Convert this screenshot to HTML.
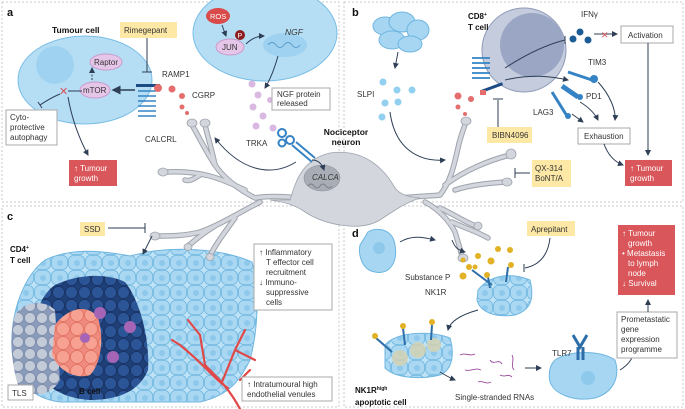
<!DOCTYPE html>
<html><head><meta charset="utf-8"><style>
html,body{margin:0;padding:0;background:#fff}
svg{display:block}
text{font-family:"Liberation Sans",sans-serif;fill:#333}
.b{font-weight:bold;fill:#111}
</style></head><body>
<svg width="685" height="409" viewBox="0 0 685 409" xmlns="http://www.w3.org/2000/svg">
<defs>
<pattern id="tc" width="17" height="15" patternUnits="userSpaceOnUse">
<rect width="17" height="15" fill="#bfe3f6"/>
<rect x="0.5" y="0.5" width="16" height="14" rx="5" fill="#aad8f2" stroke="#6fb6e0" stroke-width="0.8"/>
<circle cx="9" cy="8" r="3" fill="#8ec9ec"/>
</pattern>
<pattern id="dk" width="13" height="13" patternUnits="userSpaceOnUse">
<rect width="13" height="13" fill="#1f3f78"/>
<circle cx="6.5" cy="6.5" r="6" fill="#2c5597" stroke="#17305e" stroke-width="0.8"/>
</pattern>
<pattern id="gr" width="12" height="12" patternUnits="userSpaceOnUse">
<rect width="12" height="12" fill="#8a9bbb"/>
<circle cx="6" cy="6" r="5.5" fill="#c3cad8" stroke="#7d8cab" stroke-width="0.8"/>
</pattern>
<pattern id="pk" width="14" height="14" patternUnits="userSpaceOnUse">
<rect width="14" height="14" fill="#ef8a7e"/>
<circle cx="7" cy="7" r="6.5" fill="#f7a193" stroke="#e0705f" stroke-width="0.8"/>
</pattern>
<marker id="ar" markerWidth="6" markerHeight="6" refX="5" refY="3" orient="auto"><path d="M0,0 L6,3 L0,6 z" fill="#2d3e55"/></marker>
</defs>

<g fill="none" stroke="#bbb" stroke-dasharray="2,2" stroke-width="0.8">
<rect x="2" y="2" width="337" height="200"/>
<rect x="344" y="2" width="339" height="200"/>
<rect x="2" y="206" width="337" height="201"/>
<rect x="344" y="206" width="339" height="201"/>
</g>

<!-- PANEL C cluster first (under neuron) -->
<path d="M45,260 C70,248 100,250 130,256 C170,245 220,248 252,262 C260,290 258,330 250,360 C240,380 230,395 200,402 L60,402 C30,398 15,380 12,350 C10,310 25,275 45,260 Z" fill="url(#tc)" stroke="#6fb6e0"/>
<path d="M55,285 C75,275 105,272 125,282 C140,300 150,340 148,370 C140,390 120,400 90,400 C60,398 40,385 35,360 C30,320 40,295 55,285 Z" fill="url(#dk)"/>
<path d="M15,315 C25,300 45,300 55,310 L60,380 C50,398 30,398 18,385 C10,360 10,330 15,315 Z" fill="url(#gr)"/>
<path d="M55,325 C70,305 90,305 98,318 C105,340 100,365 90,375 C75,380 58,370 52,355 Z" fill="url(#pk)"/>
<g fill="#a564b6"><circle cx="100" cy="313" r="6"/><circle cx="130" cy="327" r="6"/><circle cx="85" cy="338" r="5"/><circle cx="113" cy="357" r="6"/></g>
<g fill="none" stroke="#e0494a" stroke-width="2.2" stroke-linecap="round">
<path d="M240,409 C230,390 220,380 205,365 M228,388 C215,380 205,365 180,345 M205,365 L200,335 M222,382 L235,350 M235,350 L245,330 M235,350 L255,360 M200,335 L188,320 M180,345 L172,340 M240,380 L250,370"/>
</g>

<!-- neuron -->
<g fill="none" stroke-linecap="round" stroke-linejoin="round">
<g stroke="#9ea3ad" stroke-width="5.5">
<path d="M300,198 C280,196 265,196 255,198 C240,190 225,180 215,165 C205,150 198,135 192,125"/>
<path d="M215,165 C212,150 208,138 205,125"/>
<path d="M245,190 C220,178 200,170 165,172"/>
<path d="M200,175 C195,178 190,182 185,180"/>
<path d="M260,202 C240,212 220,225 200,232 C185,236 170,236 155,236"/>
<path d="M215,226 C205,232 195,240 188,246"/>
<path d="M235,218 C225,232 215,245 210,256"/>
<path d="M400,198 C420,196 432,196 440,195 C452,180 455,160 458,148 C460,138 463,130 466,122"/>
<path d="M445,185 C465,170 490,160 510,155"/>
<path d="M455,190 C470,185 490,183 505,182"/>
<path d="M425,202 C440,210 450,222 455,232 C458,242 460,248 462,256"/>
<path d="M440,208 C455,215 465,222 476,226"/>
<path d="M452,222 C465,228 478,232 488,238"/>
</g>
<g stroke="#d3d6dc" stroke-width="3.5">
<path d="M300,198 C280,196 265,196 255,198 C240,190 225,180 215,165 C205,150 198,135 192,125"/>
<path d="M215,165 C212,150 208,138 205,125"/>
<path d="M245,190 C220,178 200,170 165,172"/>
<path d="M200,175 C195,178 190,182 185,180"/>
<path d="M260,202 C240,212 220,225 200,232 C185,236 170,236 155,236"/>
<path d="M215,226 C205,232 195,240 188,246"/>
<path d="M235,218 C225,232 215,245 210,256"/>
<path d="M400,198 C420,196 432,196 440,195 C452,180 455,160 458,148 C460,138 463,130 466,122"/>
<path d="M445,185 C465,170 490,160 510,155"/>
<path d="M455,190 C470,185 490,183 505,182"/>
<path d="M425,202 C440,210 450,222 455,232 C458,242 460,248 462,256"/>
<path d="M440,208 C455,215 465,222 476,226"/>
<path d="M452,222 C465,228 478,232 488,238"/>
</g>
</g>
<g fill="#d3d6dc" stroke="#9ea3ad" stroke-width="0.8">
<ellipse cx="192" cy="123" rx="5" ry="4"/><ellipse cx="205" cy="123" rx="5" ry="4"/>
<ellipse cx="163" cy="172" rx="5" ry="4"/><ellipse cx="155" cy="236" rx="5" ry="4"/>
<ellipse cx="188" cy="247" rx="4" ry="3.5"/><ellipse cx="210" cy="257" rx="4" ry="3.5"/>
<ellipse cx="466" cy="121" rx="5" ry="4"/><ellipse cx="511" cy="154" rx="5" ry="5"/>
<ellipse cx="507" cy="182" rx="5" ry="4"/><ellipse cx="463" cy="258" rx="5" ry="4"/>
<ellipse cx="478" cy="226" rx="4" ry="4"/>
<path d="M290,200 C295,185 300,160 330,153 C365,148 385,170 395,188 C400,195 410,197 420,198 C405,203 395,210 380,220 C360,232 325,225 305,212 C295,205 285,202 270,200 C278,200 285,200 290,200 Z"/>
</g>
<ellipse cx="322" cy="178" rx="18" ry="13" fill="#a9adb6" stroke="#8b909a" stroke-width="0.6"/>
<text x="312" y="180" font-size="8" font-style="italic">CALCA</text>
<path d="M308,186 q3,-4 6,0 q3,4 6,0 q3,-4 6,0 q3,4 6,0" fill="none" stroke="#7b808a"/>
<text x="346" y="135" font-size="8.5" class="b" text-anchor="middle">Nociceptor</text>
<text x="346" y="145" font-size="8.5" class="b" text-anchor="middle">neuron</text>

<!-- PANEL A -->
<text x="7" y="16" font-size="11" class="b">a</text>
<text x="52" y="33" font-size="8.5" class="b">Tumour cell</text>
<ellipse cx="85" cy="80" rx="67" ry="44" fill="#b5def5" stroke="#79bde6"/>
<circle cx="55" cy="65" r="19" fill="#9fd2f0"/>
<ellipse cx="106" cy="62" rx="16" ry="8" fill="#e6c6e8" stroke="#c79ccb"/>
<text x="94" y="65" font-size="8">Raptor</text>
<ellipse cx="95" cy="90" rx="15" ry="8" fill="#e6c6e8" stroke="#c79ccb"/>
<text x="83" y="93" font-size="8">mTOR</text>
<path d="M92,80 L92,68" stroke="#2d3e55" stroke-dasharray="2,1.5" marker-end="url(#ar)"/>
<path d="M135,90 L113,90" stroke="#2d3e55" stroke-width="1.5" marker-end="url(#ar)"/>
<path d="M82,91 L68,91" stroke="#2d3e55"/>
<text x="59" y="95" font-size="11" style="fill:#d9505a">✕</text>
<path d="M60,94 C50,98 45,102 40,105" fill="none" stroke="#2d3e55"/><path d="M38,102 L42,108" stroke="#2d3e55"/>
<path d="M68,97 C72,120 80,140 88,155" fill="none" stroke="#2d3e55" marker-end="url(#ar)"/>
<rect x="6" y="110" width="51" height="35" fill="#fff" stroke="#aaa"/>
<text x="10" y="120" font-size="8">Cyto-</text><text x="10" y="130" font-size="8">protective</text><text x="10" y="140" font-size="8">autophagy</text>
<rect x="69" y="160" width="48" height="26" fill="#d9565a"/>
<text x="74" y="171" font-size="8" style="fill:#fff">↑ Tumour</text><text x="74" y="181" font-size="8" style="fill:#fff">growth</text>
<rect x="120" y="22" width="57" height="16" fill="#fde8a6"/>
<text x="124" y="33" font-size="8">Rimegepant</text>
<path d="M147,38 L147,72 M142,72 L152,72" stroke="#2d3e55"/>
<rect x="136" y="84" width="24" height="3" fill="#1d4b86"/>
<g fill="none" stroke="#3583c4" stroke-width="1.6">
<path d="M138,91 h18 M138,96 h18 M138,101 h18 M138,106 h18 M138,111 h18 M138,116 h18"/>
</g>
<circle cx="158" cy="88" r="4" fill="#e46e6e"/>
<circle cx="172" cy="89" r="3.5" fill="#e46e6e"/><circle cx="182" cy="96" r="3" fill="#e46e6e"/><circle cx="182" cy="107" r="2.5" fill="#e46e6e"/><circle cx="187" cy="113" r="2" fill="#e46e6e"/>
<text x="162" y="77" font-size="8">RAMP1</text>
<text x="192" y="98" font-size="8">CGRP</text>
<text x="145" y="142" font-size="8">CALCRL</text>
<path d="M296,162 C270,178 240,170 215,138" fill="none" stroke="#2d3e55" marker-end="url(#ar)"/>
<ellipse cx="265" cy="33" rx="72" ry="48" fill="#b5def5" stroke="#79bde6"/>
<ellipse cx="218" cy="16" rx="12" ry="8" fill="#d94a4a"/>
<text x="210" y="19" font-size="7.5" style="fill:#fff">ROS</text>
<ellipse cx="230" cy="47" rx="14" ry="8" fill="#e6c6e8" stroke="#c79ccb"/>
<text x="222" y="50" font-size="8">JUN</text>
<circle cx="240" cy="35" r="5" fill="#8e1d22"/><text x="237.5" y="38" font-size="7" style="fill:#fff">P</text>
<path d="M222,25 L226,36" stroke="#2d3e55" marker-end="url(#ar)"/>
<path d="M246,44 C252,38 258,36 264,36" fill="none" stroke="#2d3e55" marker-end="url(#ar)"/>
<ellipse cx="285" cy="45" rx="22" ry="12" fill="#9fd2f0"/>
<path d="M268,45 q4,-5 8,0 q4,5 8,0 q4,-5 8,0 q4,5 8,0" fill="none" stroke="#5a9bc8"/>
<text x="285" y="35" font-size="8.5" font-style="italic">NGF</text>
<path d="M278,56 C274,70 270,80 265,88" fill="none" stroke="#2d3e55" marker-end="url(#ar)"/>
<g fill="#d9b8e2"><circle cx="252" cy="84" r="3.5"/><circle cx="258" cy="95" r="3.5"/><circle cx="253" cy="107" r="3.5"/><circle cx="263" cy="116" r="3.5"/><circle cx="256" cy="126" r="3.5"/><circle cx="273" cy="128" r="3.5"/><circle cx="270" cy="100" r="3"/></g>
<rect x="272" y="88" width="58" height="22" fill="#fff" stroke="#aaa"/>
<text x="277" y="97" font-size="8">NGF protein</text><text x="277" y="106" font-size="8">released</text>
<text x="246" y="146" font-size="8">TRKA</text>
<g fill="none" stroke="#3583c4" stroke-width="2"><circle cx="282" cy="133" r="4"/><circle cx="290" cy="140" r="4"/><circle cx="282" cy="143" r="3.5"/><path d="M292,145 L312,162 M296,142 L315,158"/></g>
<path d="M312,160 C318,160 322,164 324,170" fill="none" stroke="#2d3e55" marker-end="url(#ar)"/>

<!-- PANEL B -->
<text x="352" y="16" font-size="11" class="b">b</text>
<g fill="#a6d6f2" stroke="#6fb6e0"><ellipse cx="385" cy="26" rx="12" ry="9"/><ellipse cx="402" cy="22" rx="13" ry="10"/><ellipse cx="418" cy="30" rx="11" ry="10"/><ellipse cx="392" cy="40" rx="13" ry="9"/><ellipse cx="410" cy="44" rx="12" ry="8"/></g>
<path d="M398,52 L395,68" stroke="#2d3e55" marker-end="url(#ar)"/>
<g fill="#92cff0"><circle cx="383" cy="82" r="3.5"/><circle cx="397" cy="90" r="3.5"/><circle cx="412" cy="90" r="3.5"/><circle cx="385" cy="103" r="3.5"/><circle cx="398" cy="102" r="3.5"/><circle cx="382" cy="117" r="3.5"/></g>
<text x="357" y="97" font-size="8">SLPI</text>
<path d="M390,112 C395,150 420,162 445,160" fill="none" stroke="#2d3e55" marker-end="url(#ar)"/>
<g fill="#e46e6e"><circle cx="458" cy="96" r="3.5"/><circle cx="471" cy="99" r="3"/><circle cx="458" cy="107" r="2.5"/><circle cx="465" cy="114" r="2"/></g>
<circle cx="524" cy="50" r="42" fill="#c4ccde" stroke="#8e9ab8"/>
<circle cx="532" cy="45" r="32" fill="#9aa6c4"/>
<text x="468" y="19" font-size="8" class="b">CD8<tspan font-size="5" dy="-3">+</tspan></text>
<text x="468" y="30" font-size="8" class="b">T cell</text>
<g fill="none" stroke="#3583c4" stroke-width="1.8"><path d="M472,58 h18 M472,63 h18 M472,68 h18 M472,73 h18 M472,78 h18"/></g>
<rect x="481" y="86" width="22" height="3" fill="#1d4b86" transform="rotate(-20 492 87)"/>
<rect x="480" y="90" width="6" height="5" fill="#e46e6e"/>
<path d="M505,68 C525,55 545,45 565,40" fill="none" stroke="#2d3e55"/><path d="M565,36 L565,44" stroke="#2d3e55"/>
<path d="M505,80 C530,74 550,76 568,80" fill="none" stroke="#2d3e55" marker-end="url(#ar)"/>
<path d="M498,127 L498,100 M493,99 L503,99" stroke="#2d3e55"/>
<rect x="487" y="127" width="45" height="16" fill="#fde8a6"/><text x="492" y="138" font-size="8">BIBN4096</text>
<text x="581" y="17" font-size="8">IFNγ</text>
<g fill="#1d5d96"><circle cx="573" cy="39" r="3.5"/><circle cx="580" cy="32" r="3.5"/><circle cx="588" cy="40" r="3.5"/></g>
<path d="M594,34 L617,34" stroke="#2d3e55" marker-end="url(#ar)"/>
<text x="601" y="38" font-size="9" style="fill:#d9505a">✕</text>
<rect x="621" y="26" width="52" height="17" fill="#fff" stroke="#aaa"/><text x="628" y="38" font-size="8">Activation</text>
<path d="M648,43 L648,155" stroke="#2d3e55" marker-end="url(#ar)"/>
<text x="588" y="65" font-size="8">TIM3</text>
<path d="M568,72 L592,80" stroke="#3583c4" stroke-width="3"/><circle cx="594" cy="79" r="4" fill="#3583c4"/>
<path d="M562,86 L578,97" stroke="#3583c4" stroke-width="5"/><circle cx="580" cy="97" r="3" fill="#3583c4"/>
<text x="586" y="99" font-size="8">PD1</text>
<path d="M552,92 L567,116" stroke="#3583c4" stroke-width="3"/><circle cx="568" cy="116" r="3" fill="#3583c4"/>
<text x="533" y="115" font-size="8">LAG3</text>
<path d="M598,82 C610,95 616,110 615,120" fill="none" stroke="#2d3e55" marker-end="url(#ar)"/>
<path d="M580,102 C590,108 595,114 598,120" fill="none" stroke="#2d3e55" marker-end="url(#ar)"/>
<path d="M572,114 L583,122" stroke="#2d3e55" marker-end="url(#ar)"/>
<rect x="578" y="128" width="52" height="16" fill="#fff" stroke="#aaa"/><text x="584" y="139" font-size="8">Exhaustion</text>
<path d="M604,144 C608,155 615,162 623,165" fill="none" stroke="#2d3e55" marker-end="url(#ar)"/>
<rect x="625" y="160" width="47" height="26" fill="#d9565a"/>
<text x="630" y="171" font-size="8" style="fill:#fff">↑ Tumour</text><text x="630" y="181" font-size="8" style="fill:#fff">growth</text>
<rect x="532" y="160" width="39" height="27" fill="#fde8a6"/><text x="535" y="171" font-size="8">QX-314</text><text x="535" y="181" font-size="8">BoNT/A</text>
<path d="M530,173 L515,173 M515,168 L515,178" stroke="#2d3e55"/>

<!-- PANEL C labels -->
<text x="7" y="220" font-size="11" class="b">c</text>
<rect x="80" y="222" width="25" height="14" fill="#fde8a6"/><text x="84" y="232" font-size="8">SSD</text>
<path d="M108,228 L145,228 M145,223 L145,233" stroke="#2d3e55"/>
<path d="M152,236 L143,254" stroke="#2d3e55" marker-end="url(#ar)"/>
<text x="10" y="252" font-size="8" class="b">CD4<tspan font-size="5" dy="-3">+</tspan></text>
<text x="10" y="263" font-size="8" class="b">T cell</text>
<text x="79" y="394" font-size="8" class="b">B cell</text>
<rect x="8" y="385" width="25" height="15" fill="#fff" stroke="#aaa"/><text x="12" y="396" font-size="8">TLS</text>
<rect x="254" y="244" width="78" height="66" fill="#fff" stroke="#aaa"/>
<text x="259" y="255" font-size="8">↑ Inflammatory</text><text x="266" y="265" font-size="8">T effector cell</text><text x="266" y="275" font-size="8">recruitment</text><text x="259" y="285" font-size="8">↓ Immuno-</text><text x="266" y="295" font-size="8">suppressive</text><text x="266" y="305" font-size="8">cells</text>
<rect x="242" y="377" width="90" height="24" fill="#fff" stroke="#aaa"/>
<text x="247" y="387" font-size="8">↑ Intratumoural high</text><text x="247" y="397" font-size="8">endothelial venules</text>

<!-- PANEL D -->
<text x="352" y="237" font-size="11" class="b">d</text>
<path d="M368,232 C378,226 393,230 395,245 C398,262 390,275 375,272 C362,270 358,255 360,245 Z" fill="#a6d6f2" stroke="#6fb6e0"/>
<circle cx="379" cy="248" r="6" fill="#8ec9ec"/>
<path d="M400,242 C410,236 420,236 435,240" fill="none" stroke="#2d3e55" marker-end="url(#ar)"/>
<path d="M452,240 C455,248 458,250 465,252" fill="none" stroke="#2d3e55" marker-end="url(#ar)"/>
<rect x="527" y="221" width="48" height="15" fill="#fde8a6"/><text x="531" y="232" font-size="8">Aprepitant</text>
<path d="M550,238 C548,255 540,265 525,268 M524,264 L524,272" fill="none" stroke="#2d3e55"/>
<g fill="#e2b125"><circle cx="498" cy="249" r="3"/><circle cx="510" cy="250" r="3"/><circle cx="478" cy="256" r="3"/><circle cx="491" cy="261" r="3.5"/><circle cx="475" cy="267" r="2.5"/><circle cx="463" cy="260" r="2.5"/><circle cx="463" cy="276" r="3.5"/></g>
<text x="405" y="280" font-size="8">Substance P</text>
<text x="425" y="295" font-size="8">NK1R</text>
<path d="M478,290 C490,275 510,272 530,280 C535,300 530,310 515,315 C495,318 480,312 477,300 Z" fill="url(#tc)" stroke="#6fb6e0"/>
<g stroke="#2d6ea8" stroke-width="2"><path d="M472,270 L492,285"/><path d="M508,267 L506,282"/><path d="M488,277 L490,288"/></g>
<g fill="#e2b125"><circle cx="469" cy="267" r="3"/><circle cx="511" cy="265" r="3"/><circle cx="487" cy="275" r="3"/></g>
<path d="M478,310 C460,315 450,322 448,330" fill="none" stroke="#2d3e55" marker-end="url(#ar)"/>
<path d="M385,345 C395,332 430,330 450,338 C455,355 452,370 440,375 C420,380 395,378 385,368 Z" fill="url(#tc)" stroke="#6fb6e0"/>
<g fill="#d8d3b0" opacity="0.8"><circle cx="400" cy="358" r="8"/><circle cx="418" cy="350" r="8"/><circle cx="434" cy="345" r="7"/></g>
<g stroke="#2d6ea8" stroke-width="2"><path d="M376,338 L392,352"/><path d="M403,328 L405,345"/><path d="M432,325 L431,340"/></g>
<g fill="#e2b125"><circle cx="375" cy="336" r="3"/><circle cx="403" cy="326" r="3"/><circle cx="432" cy="322" r="3"/></g>
<text x="355" y="393" font-size="8" class="b">NK1R<tspan font-size="5" dy="-3">high</tspan></text>
<text x="355" y="405" font-size="8" class="b">apoptotic cell</text>
<path d="M440,372 C445,375 450,378 455,380" fill="none" stroke="#2d3e55" marker-end="url(#ar)"/>
<g fill="none" stroke="#9a4a9e" stroke-width="0.9"><path d="M460,355 c5,-3 10,2 15,-1"/><path d="M465,370 c6,2 10,-3 16,0"/><path d="M490,360 c4,6 8,-2 12,4"/><path d="M512,355 c3,5 -2,10 2,15"/><path d="M478,382 c5,-2 8,3 13,0"/><path d="M500,375 c5,3 8,-2 12,2"/></g>
<text x="455" y="400" font-size="8">Single-stranded RNAs</text>
<path d="M525,368 L541,368" stroke="#2d3e55" marker-end="url(#ar)"/>
<path d="M555,360 C570,350 600,350 615,360 C620,375 615,392 595,398 C575,402 555,395 550,382 C548,372 550,365 555,360 Z" fill="#a6d6f2" stroke="#6fb6e0"/>
<circle cx="588" cy="378" r="7" fill="#8ec9ec"/>
<g stroke="#2d6ea8" stroke-width="3" fill="none"><path d="M573,335 L580,347 L587,335"/><path d="M578,347 L578,360 M583,347 L583,360"/></g>
<text x="552" y="356" font-size="8">TLR7</text>
<path d="M620,370 C628,365 632,360 635,350" fill="none" stroke="#2d3e55"/>
<rect x="617" y="312" width="60" height="46" fill="#fff" stroke="#aaa"/>
<text x="621" y="322" font-size="8">Prometastatic</text><text x="621" y="332" font-size="8">gene</text><text x="621" y="342" font-size="8">expression</text><text x="621" y="352" font-size="8">programme</text>
<path d="M648,312 L648,300" stroke="#2d3e55" marker-end="url(#ar)"/>
<rect x="618" y="225" width="57" height="70" fill="#d9565a"/>
<g font-size="8"><text x="622" y="236" style="fill:#fff">↑ Tumour</text><text x="628" y="246" style="fill:#fff">growth</text><text x="622" y="256" style="fill:#fff">• Metastasis</text><text x="628" y="266" style="fill:#fff">to lymph</text><text x="628" y="276" style="fill:#fff">node</text><text x="622" y="286" style="fill:#fff">↓ Survival</text></g>
</svg>
</body></html>
